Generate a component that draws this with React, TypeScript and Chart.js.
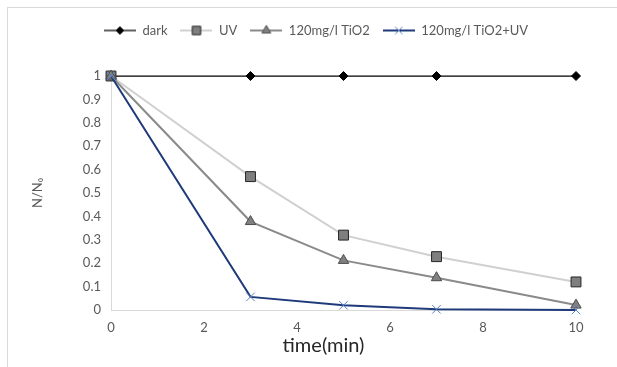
import React, { useEffect, useRef } from 'react';
import { Chart, registerables } from 'chart.js';
import { drawPoint } from 'chart.js/helpers';

Chart.register(...registerables);

const times = [0, 3, 5, 7, 10];
const darkValues = [1, 1, 1, 1, 1];
const uvValues = [1, 0.57, 0.32, 0.228, 0.12];
const tio2Values = [1, 0.378, 0.212, 0.138, 0.021];
const tio2UvValues = [1, 0.056, 0.02, 0.003, 0];
const seriesNames = ['dark', 'UV', '120mg/l TiO2', '120mg/l TiO2+UV'];
const xTicks = [0, 2, 4, 6, 8, 10];
const yTickLabels = ['0', '0.1', '0.2', '0.3', '0.4', '0.5', '0.6', '0.7', '0.8', '0.9', '1'];
const xTitle = 'time(min)';
const yTitle = 'N/N\u2080';

const FONT = 'Lato, "Open Sans", sans-serif';

type Style = {
  line: string;
  lineWidth: number;
  pointStyle: string;
  radius: number;
  fill: string;
  stroke: string;
  pointBorder: number;
};

const styles: Style[] = [
  { line: '#000000', lineWidth: 1.25, pointStyle: 'rectRot', radius: 4.5, fill: '#000000', stroke: '#000000', pointBorder: 1 },
  { line: '#d0d0d0', lineWidth: 2, pointStyle: 'rect', radius: 7, fill: '#7f7f7f', stroke: '#262626', pointBorder: 1 },
  { line: '#8a8a8a', lineWidth: 2, pointStyle: 'triangle', radius: 6, fill: '#808080', stroke: '#4d4d4d', pointBorder: 1 },
  { line: '#1f3a7a', lineWidth: 2, pointStyle: 'crossRot', radius: 6, fill: '#5b7fc0', stroke: '#5b7fc0', pointBorder: 1 },
];

const seriesValues = [darkValues, uvValues, tio2Values, tio2UvValues];

const SWATCH_W = 32;

function legendSwatch(s: Style): HTMLCanvasElement {
  const c = document.createElement('canvas');
  c.width = SWATCH_W;
  c.height = 14;
  const ctx = c.getContext('2d')!;
  ctx.strokeStyle = s.line;
  ctx.lineWidth = s.lineWidth;
  ctx.beginPath();
  ctx.moveTo(0, 7);
  ctx.lineTo(SWATCH_W, 7);
  ctx.stroke();
  ctx.fillStyle = s.fill;
  ctx.strokeStyle = s.stroke;
  ctx.lineWidth = s.pointBorder;
  drawPoint(ctx, { pointStyle: s.pointStyle as any, radius: s.radius * 0.85, rotation: 0, borderWidth: s.pointBorder } as any, SWATCH_W / 2, 7);
  return c;
}

export default function App() {
  const ref = useRef<HTMLCanvasElement>(null);

  useEffect(() => {
    const canvas = ref.current;
    if (!canvas) return;
    const swatches = styles.map(legendSwatch);

    const xTitlePlugin = {
      id: 'xTitlePlugin',
      afterDraw(chart: any) {
        const { ctx, chartArea } = chart;
        ctx.save();
        ctx.font = `20px ${FONT}`;
        ctx.fillStyle = '#262626';
        ctx.textAlign = 'center';
        ctx.textBaseline = 'middle';
        ctx.fillText(xTitle, chartArea.left + chartArea.width * 0.457, 346);
        ctx.restore();
      },
    };

    const legendSpace = {
      id: 'legendSpace',
      beforeInit(chart: any) {
        const legend = chart.legend;
        if (!legend) return;
        const orig = legend.fit;
        legend.fit = function (this: any, ...args: any[]) {
          orig.apply(this, args);
          this.height = 65;
        };
      },
    };

    const chart = new Chart(canvas, {
      type: 'line',
      data: {
        datasets: seriesNames.map((name, i) => ({
          label: name,
          data: times.map((t, j) => ({ x: t, y: seriesValues[i][j] })),
          borderColor: styles[i].line,
          borderWidth: styles[i].lineWidth,
          backgroundColor: styles[i].fill,
          pointStyle: styles[i].pointStyle as any,
          pointRadius: styles[i].radius,
          pointHoverRadius: styles[i].radius,
          pointBackgroundColor: styles[i].fill,
          pointBorderColor: styles[i].stroke,
          pointBorderWidth: styles[i].pointBorder,
          tension: 0,
          fill: false,
          clip: false as any,
          order: seriesNames.length - i,
        })),
      },
      options: {
        animation: false,
        responsive: false,
        maintainAspectRatio: false,
        layout: { padding: { left: 56, right: 41, top: 11, bottom: 0 } },
        plugins: {
          tooltip: { enabled: false },
          legend: {
            display: true,
            position: 'top',
            align: 'center',
            labels: {
              usePointStyle: true,
              pointStyleWidth: SWATCH_W,
              boxHeight: 13,
              padding: 13,
              color: '#595959',
              font: { family: FONT, size: 13 },
              generateLabels: () =>
                seriesNames.map((name, i) => ({
                  text: name,
                  pointStyle: swatches[i] as any,
                  fillStyle: styles[i].fill,
                  strokeStyle: 'transparent',
                  lineWidth: 0,
                  hidden: false,
                  datasetIndex: i,
                  fontColor: '#595959',
                })),
            },
          },
        },
        scales: {
          x: {
            type: 'linear',
            min: 0,
            max: 10,
            afterBuildTicks: (scale: any) => {
              scale.ticks = xTicks.map((v) => ({ value: v }));
            },
            afterFit: (scale: any) => {
              scale.height = 57;
            },
            grid: { display: false, drawTicks: false },
            border: { display: true, color: '#d9d9d9', width: 1 },
            ticks: {
              color: '#595959',
              font: { family: FONT, size: 13 },
              padding: 10,
              maxRotation: 0,
            },
            title: { display: false },
          },
          y: {
            type: 'linear',
            min: 0,
            max: 1,
            afterBuildTicks: (scale: any) => {
              scale.ticks = yTickLabels.map((l) => ({ value: parseFloat(l) }));
            },
            afterFit: (scale: any) => {
              scale.width = 55;
            },
            grid: { display: false, drawTicks: false },
            border: { display: true, color: '#d9d9d9', width: 1 },
            ticks: {
              color: '#595959',
              font: { family: FONT, size: 13 },
              padding: 10,
              callback: (_v: any, idx: number) => yTickLabels[idx],
            },
            title: {
              display: true,
              text: yTitle,
              color: '#595959',
              font: { family: FONT, size: 13 },
              padding: { top: -26, bottom: 0 },
            },
          },
        },
      },
      plugins: [legendSpace, xTitlePlugin],
    });

    return () => chart.destroy();
  }, []);

  return (
    <div style={{ position: 'absolute', left: 0, top: 0, width: 617, height: 367, background: '#ffffff' }}>
      <div
        style={{
          position: 'absolute',
          left: 7,
          top: 7,
          right: 0,
          bottom: 0,
          borderLeft: '1px solid #d9d9d9',
          borderTop: '1px solid #d9d9d9',
        }}
      />
      <canvas ref={ref} width={617} height={367} style={{ position: 'absolute', left: 0, top: 0, width: 617, height: 367 }} />
    </div>
  );
}
